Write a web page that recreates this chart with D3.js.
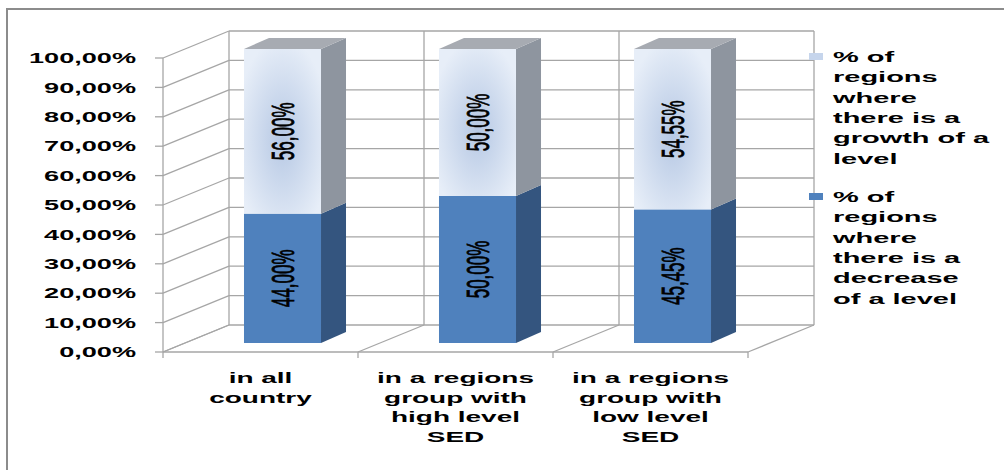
<!DOCTYPE html>
<html>
<head>
<meta charset="utf-8">
<script src="https://cdn.jsdelivr.net/npm/d3@7"></script>
<style>
  html, body { margin: 0; padding: 0; background: #fff; }
  svg { display: block; }
  text { font-family: "Liberation Sans", Arial, sans-serif; fill: #000; }
</style>
</head>
<body>
<svg id="chart" width="1004" height="470"></svg>
<script>
const categories = [
    ["in all", "country"],
    ["in a regions", "group with", "high level", "SED"],
    ["in a regions", "group with", "low level", "SED"],
];
const decreaseValues = [0.44, 0.50, 0.4545];
const growthValues = [0.56, 0.50, 0.5455];
const decreaseLabels = ["44,00%", "50,00%", "45,45%"];
const growthLabels = ["56,00%", "50,00%", "54,55%"];
const yTicks = [0, 0.1, 0.2, 0.3, 0.4, 0.5, 0.6, 0.7, 0.8, 0.9, 1.0];
const legendGrowth = ["% of", "regions", "where", "there is a", "growth of a", "level"];
const legendDecrease = ["% of", "regions", "where", "there is a", "decrease", "of a level"];

const gridColor = "#a6a6a6";
const darkFront = "#4f81bd";
const darkSide = "#34557f";
const lightSide = "#8e959f";
const lightTop = "#a7abb2";

// the whole picture is stretched sideways, text included
const stretch = 1.87;

// depth of the 3d box and where the bars sit in it
const depth = { dx: 66, dy: -27 };
const barOffset = { dx: 22, dy: -9 };
const barDepth = { dx: 25, dy: -11 };

const svg = d3.select("#chart");

const x = d3.scaleBand()
    .domain(d3.range(categories.length))
    .range([163, 748])
    .paddingInner(0)
    .paddingOuter(0);

const y = d3.scaleLinear().domain([0, 1]).range([352, 58]);

const fmt = (v) => d3.format(".2f")(v * 100).replace(".", ",") + "%";

// radial fill of the light segment
let defs = svg.append("defs");
let grad = defs.append("radialGradient")
    .attr("id", "lightFace")
    .attr("cx", "50%").attr("cy", "55%").attr("r", "62%");
grad.append("stop").attr("offset", "0%").attr("stop-color", "#b6c8e4");
grad.append("stop").attr("offset", "100%").attr("stop-color", "#e7eef8");

// frame (only top and left edges are in the picture)
svg.append("path")
    .attr("d", "M7,480 L7,9 L1004,9")
    .attr("fill", "none")
    .attr("stroke", "#8c8c8c")
    .attr("stroke-width", 2);

let grid = svg.append("g")
    .attr("stroke", gridColor)
    .attr("stroke-width", 1.3)
    .attr("fill", "none");

const x0 = x.range()[0], x1 = x.range()[1];

// back wall horizontal gridlines
grid.selectAll("line.back")
    .data(yTicks)
    .join("line")
    .attr("class", "back")
    .attr("x1", x0 + depth.dx).attr("x2", x1 + depth.dx)
    .attr("y1", (d) => y(d) + depth.dy).attr("y2", (d) => y(d) + depth.dy);

// left wall diagonals
grid.selectAll("line.side")
    .data(yTicks)
    .join("line")
    .attr("class", "side")
    .attr("x1", x0).attr("x2", x0 + depth.dx)
    .attr("y1", (d) => y(d)).attr("y2", (d) => y(d) + depth.dy);

// back wall verticals and floor diagonals at category boundaries
const bounds = d3.range(categories.length + 1).map((i) => x0 + i * x.step());

grid.selectAll("line.vert")
    .data(bounds)
    .join("line")
    .attr("class", "vert")
    .attr("x1", (d) => d + depth.dx).attr("x2", (d) => d + depth.dx)
    .attr("y1", y(0) + depth.dy).attr("y2", y(1) + depth.dy);

grid.selectAll("line.floor")
    .data(bounds)
    .join("line")
    .attr("class", "floor")
    .attr("x1", (d) => d).attr("x2", (d) => d + depth.dx)
    .attr("y1", y(0)).attr("y2", y(0) + depth.dy);

// front axes
grid.append("line")
    .attr("x1", x0).attr("x2", x0).attr("y1", y(0)).attr("y2", y(1));
grid.append("line")
    .attr("x1", x0).attr("x2", x1).attr("y1", y(0)).attr("y2", y(0));

grid.selectAll("line.ytick")
    .data(yTicks)
    .join("line")
    .attr("class", "ytick")
    .attr("x1", x0 - 8).attr("x2", x0)
    .attr("y1", (d) => y(d)).attr("y2", (d) => y(d));

grid.selectAll("line.xtick")
    .data(bounds)
    .join("line")
    .attr("class", "xtick")
    .attr("x1", (d) => d).attr("x2", (d) => d)
    .attr("y1", y(0)).attr("y2", y(0) + 6);

// y tick labels
svg.append("g")
    .selectAll("text")
    .data(yTicks)
    .join("text")
    .attr("transform", (d) => `translate(136,${y(d)}) scale(${stretch},1)`)
    .attr("text-anchor", "end")
    .attr("dy", "0.36em")
    .style("font-size", "14.5px")
    .style("font-weight", "bold")
    .text(fmt);

// bars
const barW = x.bandwidth() * 0.395;

function box(g, left, top, bottom, front, side, topFill) {
    let r = barDepth;
    g.append("rect")
        .attr("x", left).attr("y", top)
        .attr("width", barW).attr("height", bottom - top)
        .attr("fill", front);
    g.append("path")
        .attr("d", `M${left + barW},${bottom} L${left + barW + r.dx},${bottom + r.dy} L${left + barW + r.dx},${top + r.dy} L${left + barW},${top} Z`)
        .attr("fill", side);
    if (topFill) {
        g.append("path")
            .attr("d", `M${left},${top} L${left + r.dx},${top + r.dy} L${left + barW + r.dx},${top + r.dy} L${left + barW},${top} Z`)
            .attr("fill", topFill);
    }
}

function barLabel(g, cx, cy, label) {
    g.append("text")
        .attr("transform", `translate(${cx},${cy}) scale(${stretch},1) rotate(-90)`)
        .attr("text-anchor", "middle")
        .attr("dy", "0.36em")
        .attr("stroke", "#000")
        .attr("stroke-width", 0.45)
        .style("font-size", "17px")
        .text(label);
}

let bars = svg.append("g");
categories.forEach((c, i) => {
    let left = x(i) + x.bandwidth() / 2 - barW / 2 + barOffset.dx;
    let cx = left + barW / 2;
    let base = y(0) + barOffset.dy;
    let mid = y(decreaseValues[i]) + barOffset.dy;
    let top = y(decreaseValues[i] + growthValues[i]) + barOffset.dy;
    let g = bars.append("g");
    box(g, left, mid, base, darkFront, darkSide, null);
    box(g, left, top, mid, "url(#lightFace)", lightSide, lightTop);
    barLabel(g, cx, (base + mid) / 2, decreaseLabels[i]);
    barLabel(g, cx, (mid + top) / 2, growthLabels[i]);
});

// category labels
let xl = svg.append("g");
categories.forEach((lines, i) => {
    let cx = x(i) + x.bandwidth() / 2;
    lines.forEach((t, j) => {
        xl.append("text")
            .attr("transform", `translate(${cx},${383 + j * 19.5}) scale(1.93,1)`)
            .attr("text-anchor", "middle")
            .style("font-size", "14.5px")
            .style("font-weight", "bold")
            .text(t);
    });
});

// legend
const legendItems = [
    { lines: legendGrowth, fill: "#c6d5ec", y: 62 },
    { lines: legendDecrease, fill: darkFront, y: 202 },
];
let legend = svg.append("g");
legendItems.forEach((item) => {
    legend.append("rect")
        .attr("x", 809).attr("y", item.y - 9)
        .attr("width", 14).attr("height", 7)
        .attr("fill", item.fill);
    item.lines.forEach((t, j) => {
        legend.append("text")
            .attr("transform", `translate(833,${item.y + j * 20.3}) scale(2.0,1)`)
            .style("font-size", "14.5px")
            .style("font-weight", "bold")
            .text(t);
    });
});
</script>
</body>
</html>
